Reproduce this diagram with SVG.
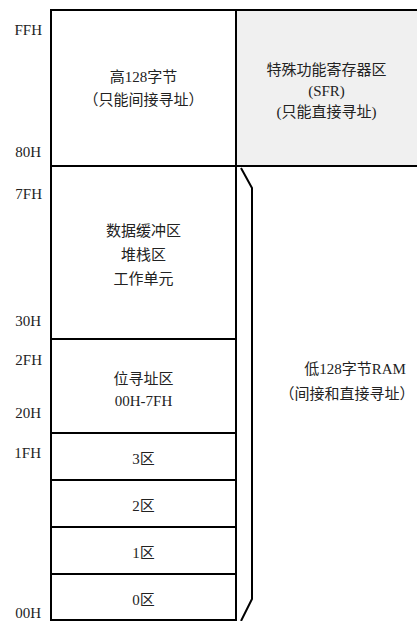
<svg xmlns="http://www.w3.org/2000/svg" width="417" height="621" viewBox="0 0 417 621">
<style>
.box{fill:#ffffff;stroke:#000;stroke-width:2}
.sfr{fill:#f0f0f0;stroke:#000;stroke-width:2}
.t{font-family:"Liberation Serif","Noto Sans CJK SC",serif;font-size:15px;fill:#222;text-anchor:middle}
.a{font-family:"Liberation Serif","Noto Sans CJK SC",serif;font-size:15px;fill:#222;text-anchor:end}
.ln{fill:none;stroke:#000;stroke-width:2}
</style>
<rect width="417" height="621" fill="#fff"/>
<g id="sfr">
<rect class="sfr" x="236" y="10" width="183" height="156"/>
<text class="t" x="326.5" y="75">特殊功能寄存器区</text>
<text class="t" x="326.5" y="96">(SFR)</text>
<text class="t" x="326.5" y="117">(只能直接寻址)</text>
</g>
<g id="high128">
<rect class="box" x="51" y="10" width="185" height="156"/>
<text class="t" x="143.5" y="82">高128字节</text>
<text class="t" x="143.5" y="105">（只能间接寻址）</text>
</g>
<g id="buffer">
<rect class="box" x="51" y="166" width="185" height="173"/>
<text class="t" x="143.5" y="236">数据缓冲区</text>
<text class="t" x="143.5" y="260">堆栈区</text>
<text class="t" x="143.5" y="284">工作单元</text>
</g>
<g id="bitaddr">
<rect class="box" x="51" y="339" width="185" height="94"/>
<text class="t" x="143.5" y="384">位寻址区</text>
<text class="t" x="143.5" y="406">00H-7FH</text>
</g>
<g id="bank3">
<rect class="box" x="51" y="433" width="185" height="47"/>
<text class="t" x="143.5" y="464">3区</text>
</g>
<g id="bank2">
<rect class="box" x="51" y="480" width="185" height="47"/>
<text class="t" x="143.5" y="511">2区</text>
</g>
<g id="bank1">
<rect class="box" x="51" y="527" width="185" height="47"/>
<text class="t" x="143.5" y="558">1区</text>
</g>
<g id="bank0">
<rect class="box" x="51" y="574" width="185" height="46"/>
<text class="t" x="143.5" y="605">0区</text>
</g>
<g id="low128">
<text class="t" x="355" y="374">低128字节RAM</text>
<text class="t" x="347" y="399">（间接和直接寻址）</text>
</g>
<g id="connectors">
<polyline class="ln" points="241,168 252,188 252,599 241,621"/>
</g>
<g id="addresses">
<text class="a" x="42" y="35">FFH</text>
<text class="a" x="41" y="157">80H</text>
<text class="a" x="42" y="199">7FH</text>
<text class="a" x="41" y="326">30H</text>
<text class="a" x="42" y="365">2FH</text>
<text class="a" x="41" y="418">20H</text>
<text class="a" x="41" y="458">1FH</text>
<text class="a" x="41" y="618">00H</text>
</g>
</svg>
